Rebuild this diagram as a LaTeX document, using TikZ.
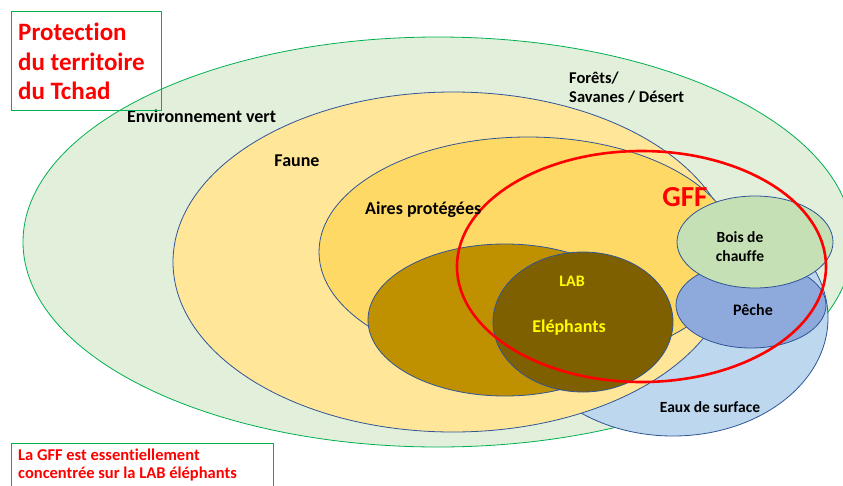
\documentclass[tikz,border=0pt]{standalone}
\usepackage{fontspec}
\setmainfont{Carlito}[Ligatures=NoCommon]
\usetikzlibrary{shapes.geometric}

\definecolor{envfill}{HTML}{E2EFDA}
\definecolor{envline}{HTML}{00B050}
\definecolor{zoneline}{HTML}{2F5597}
\definecolor{faunefill}{HTML}{FFE699}
\definecolor{airesfill}{HTML}{FFD966}
\definecolor{labfill}{HTML}{BF9000}
\definecolor{elefill}{HTML}{7F6000}
\definecolor{eauxfill}{HTML}{BDD7EE}
\definecolor{pechefill}{HTML}{8EA9DB}
\definecolor{boisfill}{HTML}{C5E0B4}
\definecolor{gffred}{HTML}{FF0000}
\definecolor{txtyellow}{HTML}{FFFF00}

\newcommand{\fsz}[2]{\bfseries\fontsize{#1}{#2}\selectfont}

\begin{document}
\begin{tikzpicture}[x=1pt,y=-1pt,
  zone/.style={ellipse, draw=zoneline, line width=0.8pt, inner sep=0pt},
  lbl/.style={font=\fsz{18}{19}, text=black, align=center, inner sep=0pt},
  ylbl/.style={lbl, text=txtyellow},
  note/.style={font=\fsz{16.5}{18.5}, text=gffred, align=left, inner sep=0pt},
  frame/.style={draw=envline, line width=0.8pt, inner sep=0pt, anchor=north west}]

\useasboundingbox (0,0) rectangle (843,485);
\clip (0,0) rectangle (843,485);

% nested areas, back to front
\node[zone, draw=envline, fill=envfill, minimum width=830, minimum height=410] (env) at (438,242) {};
\node[zone, fill=eauxfill, minimum width=310, minimum height=236] (eaux) at (673,318) {};
\node[zone, fill=faunefill, minimum width=560, minimum height=340] (faune) at (453,262) {};
\node[zone, fill=airesfill, minimum width=418, minimum height=230] (aires) at (528,252) {};
\node[zone, fill=labfill, minimum width=274, minimum height=152] (lab) at (505,320) {};
\node[zone, fill=elefill, minimum width=180, minimum height=140] (ele) at (583,322) {};
\node[zone, fill=pechefill, minimum width=150, minimum height=86] (peche) at (751,305) {};
\node[zone, fill=boisfill, minimum width=156, minimum height=92] (bois) at (755,242) {};

% GFF perimeter
\node[ellipse, draw=gffred, line width=2.6pt, inner sep=0pt,
      minimum width=369, minimum height=231] (gff) at (641.5,266.5) {};

% area labels
\node[lbl, anchor=west] (tenv) at (127,116) {Environnement vert};
\node[lbl] (tfaune) at (297,161) {Faune};
\node[lbl, anchor=west] (taires) at (365,210) {Aires protégées};
\node[lbl, font=\fsz{16.5}{19}, align=left, anchor=west] (tforet) at (569,88) {Forêts/\\Savanes / Désert};
\node[font=\fsz{29}{30}, text=gffred, inner sep=0pt] (tgff) at (685,197) {GFF};
\node[lbl, font=\fsz{15.5}{19}] (tbois) at (740,246.5) {Bois de\\chauffe};
\node[lbl, font=\fsz{16}{18}] (tpeche) at (753,310) {Pêche};
\node[ylbl, font=\fsz{16}{18}] (tlab) at (572,281) {LAB};
\node[ylbl] (tele) at (569,328) {Eléphants};
\node[lbl, font=\fsz{15.5}{18}] (teaux) at (710,407) {Eaux de surface};

% framed captions (anchored on the baseline of their last line)
\node[frame, minimum width=150.5, minimum height=99.5] (titlebox) at (10.7,10.7) {};
\node[font=\fsz{25}{29.5}, text=gffred, align=left,
      inner sep=0pt, anchor=base west] (title) at (18,99.5) {Protection\\du territoire\\du Tchad};
\node[frame, minimum width=262.5, minimum height=60] (notebox) at (10.7,443.3) {};
\node[note, anchor=base west] (notetxt) at (18,478.5) {La GFF est essentiellement\\concentrée sur la LAB éléphants};
\end{tikzpicture}
\end{document}
